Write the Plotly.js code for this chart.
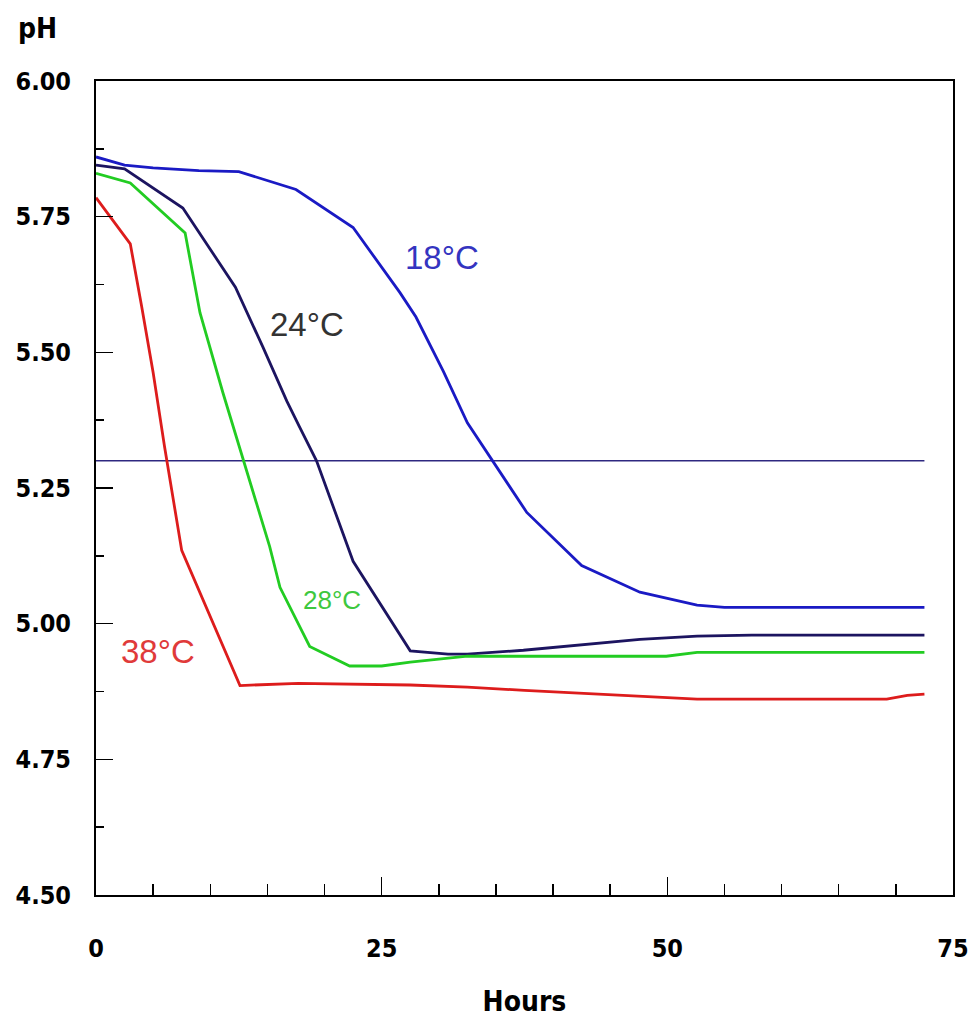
<!DOCTYPE html>
<html>
<head>
<meta charset="utf-8">
<script src="https://cdn.plot.ly/plotly-3.0.1.min.js"></script>
<style>
  html, body { margin: 0; padding: 0; background: #ffffff; }
  #chart { width: 971px; height: 1018px; }
</style>
</head>
<body>
<div id="chart"></div>
<script>
// Hours and pH values
const hours18 = [0, 2.5, 5, 9, 12.5, 17.5, 22.5, 26.6, 28, 30.4, 32.5, 34.7, 37.7, 42.5, 47.6, 52.6, 55, 72.5];
const ph18    = [5.86, 5.845, 5.84, 5.835, 5.833, 5.80, 5.73, 5.61, 5.565, 5.465, 5.37, 5.30, 5.205, 5.107, 5.058, 5.034, 5.03, 5.03];

const hours24 = [0, 2.5, 7.6, 12.2, 14.6, 16.7, 17.8, 19.3, 22.5, 27.5, 30.8, 32.5, 37.4, 42.3, 47.6, 52.6, 57.4, 72.5];
const ph24    = [5.845, 5.838, 5.766, 5.62, 5.51, 5.41, 5.363, 5.30, 5.115, 4.95, 4.944, 4.944, 4.951, 4.96, 4.971, 4.977, 4.979, 4.979];

const hours28 = [0, 3, 7.8, 9.1, 11.1, 12.9, 15.2, 16.1, 18.7, 22.2, 25, 27.5, 32.5, 49.9, 52.6, 72.5];
const ph28    = [5.83, 5.812, 5.72, 5.573, 5.426, 5.30, 5.142, 5.067, 4.958, 4.922, 4.922, 4.929, 4.94, 4.94, 4.947, 4.947];

const hours38 = [0, 3, 4, 5, 6, 7.5, 12.6, 17.7, 27.5, 32.5, 37.5, 42.5, 47.6, 52.6, 69.2, 71, 72.5];
const ph38    = [5.785, 5.70, 5.584, 5.463, 5.326, 5.135, 4.886, 4.89, 4.887, 4.883, 4.877, 4.872, 4.866, 4.861, 4.861, 4.868, 4.87];

const refHours = [0, 72.5];
const refPH    = [5.30, 5.30];

const seriesNames = ['18°C', '24°C', '28°C', '38°C'];
const yTickVals = [4.50, 4.75, 5.00, 5.25, 5.50, 5.75, 6.00];
const yTickText = ['4.50', '4.75', '5.00', '5.25', '5.50', '5.75', '6.00'];
const xTickVals = [0, 25, 50, 75];
const xTickText = ['0', '25', '50', '75'];

const tickFont = {family: 'DejaVu Sans Condensed, DejaVu Sans, Liberation Sans Narrow, sans-serif', size: 25, color: '#000', weight: 'bold'};

const traces = [
  {x: refHours, y: refPH, mode: 'lines', line: {color: '#2e2880', width: 1.5}, hoverinfo: 'skip'},
  {x: hours18, y: ph18, name: seriesNames[0], mode: 'lines', line: {color: '#1a1ac4', width: 2.8}},
  {x: hours24, y: ph24, name: seriesNames[1], mode: 'lines', line: {color: '#1c1460', width: 2.8}},
  {x: hours28, y: ph28, name: seriesNames[2], mode: 'lines', line: {color: '#22cc22', width: 2.8}},
  {x: hours38, y: ph38, name: seriesNames[3], mode: 'lines', line: {color: '#dd1c1c', width: 2.8}}
];

const labelFamily = 'Liberation Sans, Arial, sans-serif';
const layout = {
  width: 971, height: 1018,
  margin: {l: 96, r: 18, t: 81, b: 123},
  paper_bgcolor: '#ffffff', plot_bgcolor: '#ffffff',
  showlegend: false,
  xaxis: {
    range: [0, 75], showgrid: false, zeroline: false,
    showline: true, linecolor: '#000', linewidth: 2, mirror: true,
    tickvals: xTickVals, ticktext: xTickText,
    ticks: 'inside', ticklen: 18, tickwidth: 1.5, tickcolor: '#000',
    minor: {dtick: 5, tick0: 0, ticks: 'inside', ticklen: 11, tickwidth: 1.5, tickcolor: '#000', showgrid: false},
    tickfont: tickFont, ticklabelstandoff: 30,
    title: {text: 'Hours', font: {family: tickFont.family, size: 28, color: '#000', weight: 'bold'}, standoff: 31}
  },
  yaxis: {
    range: [4.5, 6.0], showgrid: false, zeroline: false,
    showline: true, linecolor: '#000', linewidth: 2, mirror: true,
    tickvals: yTickVals, ticktext: yTickText,
    ticks: 'inside', ticklen: 17, tickwidth: 1.5, tickcolor: '#000',
    minor: {dtick: 0.125, tick0: 4.5, ticks: 'inside', ticklen: 8, tickwidth: 1.5, tickcolor: '#000', showgrid: false},
    tickfont: tickFont, ticklabelstandoff: 18
  },
  annotations: [
    {text: 'pH', xref: 'paper', yref: 'paper', x: -0.0933, y: 1.065, xanchor: 'left', yanchor: 'middle', showarrow: false,
     font: {family: tickFont.family, size: 28, color: '#000', weight: 'bold'}},
    {text: seriesNames[0], xref: 'x', yref: 'y', x: 30.3, y: 5.674, showarrow: false, font: {family: labelFamily, size: 33, color: '#3434c0'}},
    {text: seriesNames[1], xref: 'x', yref: 'y', x: 18.5, y: 5.551, showarrow: false, font: {family: labelFamily, size: 33, color: '#333333'}},
    {text: seriesNames[2], xref: 'x', yref: 'y', x: 20.65, y: 5.043, showarrow: false, font: {family: labelFamily, size: 26, color: '#3ec83e'}},
    {text: seriesNames[3], xref: 'x', yref: 'y', x: 5.43, y: 4.949, showarrow: false, font: {family: labelFamily, size: 33, color: '#e03a3a'}}
  ]
};

Plotly.newPlot('chart', traces, layout, {staticPlot: true, displayModeBar: false});
</script>
</body>
</html>
